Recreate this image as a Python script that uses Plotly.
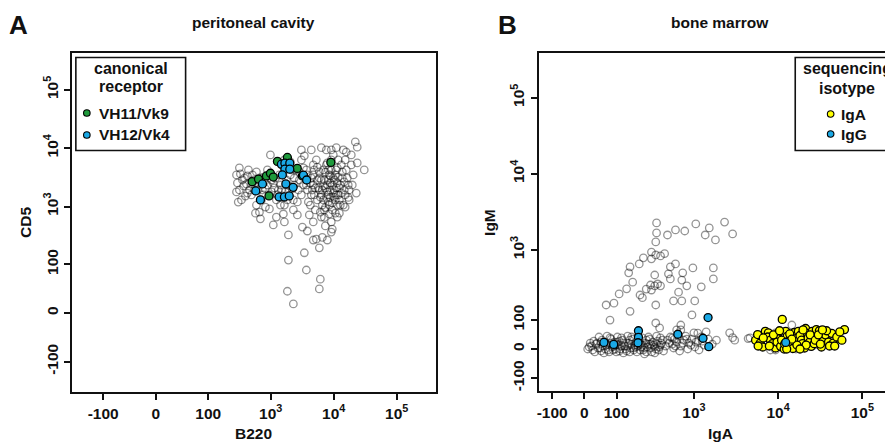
import numpy as np
import plotly.graph_objects as go

# axis ticks (raw fluorescence units)
tick_values = [-100, 0, 100, 1000, 10000, 100000]
tick_labels = ['-100', '0', '100', '10<sup>3</sup>', '10<sup>4</sup>', '10<sup>5</sup>']

# A: peritoneal cavity, all sorted cells (B220 / CD5)
pc_bg_b220 = [286, 296, 286, 305, 343, 383, 427, 460, 495, 397,
              533, 594, 640, 713, 768, 594, 663, 825, 955, 1100,
              1230, 687, 573, 768, 888, 990, 1030, 1150, 1280, 1370,
              1480, 1650, 1780, 1980, 2130, 2290, 1650, 1590, 1650, 1910,
              1910, 1840, 2290, 2650, 2850, 3070, 3420, 3680, 3820, 3960,
              3180, 3820, 3420, 3680, 4410, 4740, 4740, 4920, 5100, 4740,
              4740, 5300, 5910, 6130, 5910, 5300, 5910, 6360, 6360, 6600,
              6850, 7100, 7100, 6600, 7630, 7920, 8210, 8500, 9150, 9150,
              9490, 8500, 9150, 9850, 10200, 10600, 11000, 11400, 11800, 12300,
              13200, 13700, 14200, 14700, 15200, 15800, 17000, 19000, 20400, 22000,
              23600, 23600, 22800, 30500, 17600, 12700, 4260, 2750, 2370, 2050,
              2560, 3070, 3310, 3550, 5500, 6130, 7360, 7920, 4100, 2650,
              2290, 1430, 1230, 955, 888, 740, 495, 443, 370, 330,
              318, 3070, 4410, 7630, 9150, 11000, 15800, 19000, 8210, 9490,
              8820, 10600, 6850, 5910, 5500, 4740, 7360, 8820, 9850, 11400,
              8210, 10200, 12300, 6360, 412, 553, 663, 796, 920, 1100,
              1320, 1530, 1840, 2210,
              3310, 3820, 4260, 4570, 4920, 5500, 5700, 6130, 6600, 7100,
              7360, 7920, 8210, 8820, 9150, 9490, 9850, 10200, 11000, 11400,
              11800, 12300, 12700, 13200, 13700, 14200, 14700, 15200, 16400, 17600,
              6850, 5910, 5100, 7630, 9490, 10600, 8500, 6360, 11000, 8820,
              7920, 11800, 15200, 17000, 19700, 11400, 7360, 4410, 3680, 2850,
              318, 356, 427, 514, 617, 687, 825, 1030, 1190, 1430,
              1710, 2050, 2370, 1840, 1480]
pc_bg_cd5 = [3480, 2540, 1780, 1190, 1300, 3080, 3340, 1920, 1580, 1510,
             2850, 3920, 2340, 1300, 1580, 1060, 800, 980, 910, 483,
             660, 615, 770, 3200, 4240, 7670, 2850, 2080, 1580, 3480,
             5160, 6290, 2850, 1920, 4240, 1300, 1060, 745, 545, 325,
             119, 29, 11, 1200, 2850, 6290, 7400, 4240, 1920, 1200,
             445, 380, 160, 79, 3080, 5160, 2340, 1580, 873, 545,
             266, 275, 195, 53, 33, 6290, 3920, 10200, 2850, 1920,
             1300, 873, 650, 295, 5160, 2340, 1580, 1060, 545, 365,
             410, 3480, 6290, 7670, 1920, 1300, 4240, 2540, 1580, 770,
             5160, 3080, 9330, 1920, 6290, 4240, 2340, 5160, 3480, 12800,
             10400, 5580, 1700, 4240, 1300, 1060, 1060, 1920, 3080, 5800,
             4240, 1580, 2340, 3080, 1300, 800, 465, 266, 717, 717,
             873, 1060, 1300, 1580, 2340, 1920, 2430, 4240, 2250, 3620,
             4600, 9330, 9330, 9330, 9330, 10200, 8600, 7670, 2850, 2340,
             1920, 3480, 4240, 1920, 2850, 3480, 2080, 1430, 1700, 1060,
             4240, 2850, 2080, 1580, 2430, 1920, 3080, 2650, 3340, 2540,
             1920, 1520, 2340, 2000,
             4580, 3480, 2540, 1920, 4240, 4750, 2080, 1450, 1060, 2850,
             3900, 1780, 1200, 2540, 4240, 873, 3080, 1430, 2080, 4600,
             3200, 1300, 2340, 1700, 3920, 1060, 2650, 1580, 3080, 1920,
             2250, 3080, 2080, 1430, 1150, 770, 745, 660, 1580, 3340,
             5580, 6290, 980, 1430, 2340, 660, 960, 1580, 2340, 3920,
             1920, 2850, 1700, 3480, 1920, 2540, 2000, 1780, 3080, 2340,
             1780, 3480, 2340, 1300, 1920]

# canonical receptors
pc_vh11_b220 = [508, 640, 856, 990, 1100, 940, 1280, 1840, 2640, 3180, 9000]
pc_vh11_cd5 = [2670, 2950, 3340, 3720, 3200, 1520, 5930, 6940, 4500, 3340, 5700]
pc_vh12_b220 = [580, 687, 740, 1480, 1680, 2010, 1680, 2010, 1530, 1740,
                2270, 1360, 1650, 1970, 3310, 3720]
pc_vh12_cd5 = [1850, 1300, 2440, 5310, 5540, 5540, 4360, 4360, 3480, 2440,
               2130, 1460, 1460, 1520, 3440, 2850]

# B: bone marrow, all sorted cells (IgA / IgM)
bm_bg_iga = [353, 353, 480, 600, 775, 1050, 1360, 1520, 1800, 2310,
             2880, 345, 305, 345, 395, 443, 241, 305, 213, 160,
             153, 174, 143, 110, 234, 262, 305, 335, 364, 335,
             395, 520, 600, 493, 520, 733, 714, 820, 653, 568,
             714, 970, 1700, 1700, 1220, 1020, 345, 63, 90, 160,
             945, 76, 345, 385, 695, 695, 1110, 2880, 4400, 218,
             297,
             9, 20, 29, 35, 44, 50, 56, 63, 70, 76,
             84, 91, 99, 107, 115, 124, 133, 143, 153, 163,
             174, 186, 198, 212, 226, 241, 257, 272, 289, 307,
             325, 345, 364, 384, 405, 430, 41, 66, 103, 148,
             205, 280, 87, 128, 180, 249, 335, 111, 158, 219,
             298, 394, 60, 26, 95, 192, 264, 354,
             480, 520, 550, 585, 620, 653, 695, 753, 795, 867,
             945, 1025, 1110, 1220, 1320, 1475, 1650, 568, 673, 842,
             1147, 1850, 2655, 3050, 1395, 997, 620,
             4640, 7040, 8100, 9310, 11600, 16270, 21500, 26860, 37600, 43250,
             14550, 9310,
             13, 23, 32, 38, 47, 53, 60, 66, 73, 80,
             87, 95, 103, 111, 120, 128, 138, 148, 158, 168,
             180, 192, 205, 219, 234, 249, 264, 280, 298, 316,
             335, 354, 374, 394, 418, 455, 120, 168, 234, 80,
             47, 16, 505, 550, 600, 733, 820, 920, 1050, 1250]
bm_bg_igm = [2260, 1670, 1569, 1826, 1770, 2190, 1569, 1940, 1349, 2320,
             1620, 1270, 935, 855, 830, 890, 785, 760, 650, 595,
             495, 370, 300, 255, 225, 298, 289, 330, 350, 463,
             330, 595, 650, 480, 410, 495, 396, 330, 270, 202,
             202, 575, 575, 410, 320, 202, 176, 176, 187, 140,
             122, 99, 87, 68, 79, 61, 50, 35, 32, 246,
             339,
             0, 9, -9, 18, 3, 27, -12, 12, -3, 34,
             6, 21, -9, 12, 0, 27, 9, -6, 18, 3,
             30, 12, -9, 24, 6, -3, 18, 6, 30, -9,
             12, 0, 24, 6, 18, -6, 37, 40, 37, 40,
             40, 37, -3, -12, -3, -15, -12, 24, 27, 15,
             15, 34, 21, 24, 12, 6, 27, 40,
             27, 37, 15, 30, 21, 40, 9, 27, 40, 18,
             30, 6, 24, 37, 12, 30, 15, 3, -6, 0,
             -3, 27, 51, 27, 54, 51, 61,
             34, 44, -3, 51, 6, 0, 44, 12, 47, 27,
             79, -3,
             6, -3, 15, 3, -6, 9, 0, 15, -9, 18,
             9, 0, 21, -6, 9, 18, 0, 9, -9, 15,
             3, 21, 9, -3, 12, 3, -9, 15, 3, 21,
             6, 15, -3, 12, 27, 9, 34, 37, 34, 30,
             21, 18, 18, 34, 9, 18, 30, 12, 21, 24]

# sequencing isotype
bm_iga_iga = [11200, 5400, 5710, 6130, 6570, 7040, 7650, 7540, 8100, 8560,
              9310, 9970, 9840, 9700, 10700, 11800, 12300, 12800, 13360, 14150,
              14950, 15600, 16270, 17400, 18180, 18970, 19500, 20600, 21200, 22400,
              22720, 23700, 24730, 25420, 26860, 28450, 29650, 30900, 32700, 34550,
              36520, 39700, 43250, 45100, 49700, 57200, 61400, 8800, 11000, 11950,
              13740, 16730, 19770, 24020, 27620, 31770, 37600, 40800, 6660, 5790,
              7870, 14550, 21500, 30060, 47000, 54000, 10400, 18180, 12640, 33600]
bm_iga_igm = [102, 27, 45, 18, 6, 56, 51, 37, 27, 16,
              3, 49, 32, 21, 8, 0, 56, 39, 24, 15,
              1.5, 52, 32, 56, 42, 27, 16, 3, 66, 49,
              34, 21, 8, 56, 16, 62, 34, 58, 6, 29,
              44, 21, 49, 18, 37, 27, 62, 44, 27, 15,
              47, 12, 61, 44, 27, 15, 58, 9, 34, 9,
              9, 30, 12, 44, 9, 54, 58, 0, 0, 61]
bm_igg_iga = [56, 89, 208, 208, 205, 640, 1470, 1280, 1500, 12300]
bm_igg_igm = [20, 14, 58, 36, 19, 46, 110, 33, 7, 20]

W, H = 893, 442
OFF = 8      # default body margin of the page around the plot div
FONT = 'Liberation Sans, Arial, sans-serif'
INK = '#111111'
GREEN = '#1f9a3c'
BLUE = '#1aa9e6'
YELLOW = '#ffff00'

PC_W = 30    # linear width of the biexponential-like display, panel A
BM_W = 100   # panel B


def biex(v, w):
    return np.arcsinh(np.asarray(v, dtype=float) / w) / np.log(10)


def fx(p):
    return (p - OFF) / W


def fy(p):
    return 1 - (p - OFF) / H


bg_marker = dict(size=7.5, color='rgba(0,0,0,0)', line=dict(color='rgba(0,0,0,0.42)', width=1.3))


def fill_marker(c):
    return dict(size=8, color=c, line=dict(color='black', width=1.3))


fig = go.Figure()
fig.add_trace(go.Scatter(x=biex(pc_bg_b220, PC_W), y=biex(pc_bg_cd5, PC_W), mode='markers',
                         marker=bg_marker, xaxis='x', yaxis='y', name='all'))
fig.add_trace(go.Scatter(x=biex(pc_vh11_b220, PC_W), y=biex(pc_vh11_cd5, PC_W), mode='markers',
                         marker=fill_marker(GREEN), xaxis='x', yaxis='y', name='VH11/Vk9'))
fig.add_trace(go.Scatter(x=biex(pc_vh12_b220, PC_W), y=biex(pc_vh12_cd5, PC_W), mode='markers',
                         marker=fill_marker(BLUE), xaxis='x', yaxis='y', name='VH12/Vk4'))

fig.add_trace(go.Scatter(x=biex(bm_bg_iga, BM_W), y=biex(bm_bg_igm, BM_W), mode='markers',
                         marker=bg_marker, xaxis='x2', yaxis='y2', name='all'))
fig.add_trace(go.Scatter(x=biex(bm_iga_iga, BM_W), y=biex(bm_iga_igm, BM_W), mode='markers',
                         marker=fill_marker(YELLOW), xaxis='x2', yaxis='y2', name='IgA'))
fig.add_trace(go.Scatter(x=biex(bm_igg_iga, BM_W), y=biex(bm_igg_igm, BM_W), mode='markers',
                         marker=fill_marker(BLUE), xaxis='x2', yaxis='y2', name='IgG'))


def axis(w, rng, dom, anchor, mirror, angle=0):
    return dict(domain=dom, range=list(biex(rng, w)), anchor=anchor,
                tickvals=list(biex(tick_values, w)), ticktext=tick_labels,
                showgrid=False, zeroline=False, showline=True, mirror=mirror,
                linecolor=INK, linewidth=2, ticks='outside', ticklen=6,
                tickwidth=1.6, tickcolor=INK, tickangle=angle,
                tickfont=dict(family=FONT, size=15.5, color=INK, weight='bold'))


annotations = []


def label(text, x, y, size=15.5, angle=0, xanchor='center'):
    annotations.append(dict(text=text, x=fx(x), y=fy(y), xref='paper', yref='paper',
                            showarrow=False, textangle=angle, xanchor=xanchor, yanchor='middle',
                            font=dict(family=FONT, size=size, color=INK, weight='bold')))


# panel titles and letters
label('A', 17, 25, size=26)
label('B', 507, 25, size=26)
label('peritoneal cavity', 252, 22, size=15.5)
label('bone marrow', 720, 22, size=15.5)
# axis titles
label('B220', 252, 433)
label('CD5', 23, 222, angle=-90)
label('IgA', 720, 433)
label('IgM', 488, 222, angle=-90)

# legend A
label('canonical', 129, 69, size=16)
label('receptor', 129, 86, size=16)
label('VH11/Vk9', 95, 113, xanchor='left')
label('VH12/Vk4', 95, 135, xanchor='left')
# legend B
label('sequencing', 847, 69, size=16)
label('isotype', 847, 88, size=16)
label('IgA', 839, 114, xanchor='left')
label('IgG', 839, 134, xanchor='left')

shapes = [
    dict(type='rect', xref='paper', yref='paper', x0=fx(74), x1=fx(184), y0=fy(150.5), y1=fy(57.5),
         line=dict(color=INK, width=1.6), fillcolor='white', layer='above'),
    dict(type='rect', xref='paper', yref='paper', x0=fx(795), x1=1.05, y0=fy(150.5), y1=fy(57.5),
         line=dict(color=INK, width=1.6), fillcolor='white', layer='above'),
]
for cx, cy, c in [(85, 113, GREEN), (85, 135, BLUE), (830.5, 114, YELLOW), (830.5, 134, BLUE)]:
    shapes.append(dict(type='circle', xref='paper', yref='paper', xsizemode='pixel', ysizemode='pixel',
                       xanchor=fx(cx), yanchor=fy(cy), x0=-3.3, x1=3.3, y0=-3.3, y1=3.3,
                       line=dict(color='black', width=1.1), fillcolor=c, layer='above'))

fig.update_layout(
    width=W, height=H,
    margin=dict(l=0, r=0, t=0, b=0),
    paper_bgcolor='white', plot_bgcolor='white',
    showlegend=False,
    xaxis=axis(PC_W, [-320, 4.2e5], [fx(70), fx(435)], 'y', True),
    yaxis=axis(PC_W, [-338, 4.27e5], [fy(392), fy(53)], 'x', True, angle=-90),
    xaxis2=axis(BM_W, [-161, 2.88e5], [fx(537.7), 1.0], 'y2', True),
    yaxis2=axis(BM_W, [-164, 3.85e5], [fy(391), fy(53)], 'x2', False, angle=-90),
    annotations=annotations,
    shapes=shapes,
)

fig.write_html("out.html")
